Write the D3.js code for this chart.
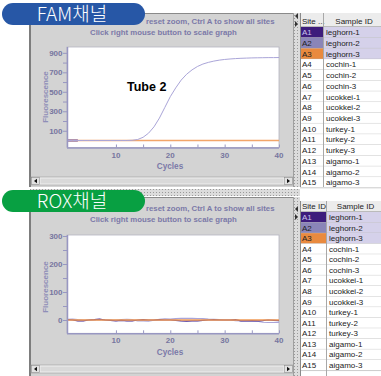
<!DOCTYPE html>
<html><head><meta charset="utf-8">
<script src="https://cdn.jsdelivr.net/npm/d3@7"></script>
<style>body{margin:0;background:#fff;overflow:hidden}svg{display:block}</style>
</head><body>
<svg id="c" width="381" height="376"></svg>
<script>
// ---------- data ----------
const cycles = d3.range(1, 41);
// FAM channel
const famA1 = [0, 0, 0];
const famA2 = [0,0,0,0,0,0,0,0,0,0,0,0,2,10,33,75,140,230,340,450,540,620,680,725,760,785,802,815,825,832,837,841,844,846,848,849,850,851,851,852];
const famA3 = [0,0,0,0,0,0,0,0,0,0,0,0,0,0,0,0,0,0,0,0,0,0,0,0,0,0,0,0,0,0,0,0,0,0,0,0,0,0,0,0];
// ROX channel
const roxA1 = [1,0,-3,-3,0,1,3,0,-1,-3,-1,-3,-3,0,1,0,0,1,0,0,-1,-3,-4,-3,-3,-1,0,1,0,0,0,1,-3,-3,-2,-3,-2,0,-1,-2];
const roxA2 = [2,3,1,0,0,1,0,1,0,0,1,2,1,-3,-3,-4,-1,2,4,3,5,6,6,6,5,5,3,2,1,0,0,-2,-3,-2,-3,-4,-8,-9,-9,-9];
const roxA3 = [0,0,0,0,0,0,0,0,0,0,0,0,0,0,0,0,0,0,0,0,0,0,0,0,0,0,0,0,0,0,0,0,0,0,0,0,0,0,0,0];
const famYTicks = [100, 300, 500, 700, 900];
const famYMinor = [200, 400, 600, 800];
const roxYTicks = [0, 100, 200, 300];
const roxYMinor = [50, 150, 250];
const xTicks = [10, 20, 30, 40];
const xMinor = [15, 25, 35];
const siteIds = ["A1","A2","A3","A4","A5","A6","A7","A8","A9","A10","A11","A12","A13","A14","A15"];
const sampleIds = ["leghorn-1","leghorn-2","leghorn-3","cochin-1","cochin-2","cochin-3","ucokkei-1","ucokkei-2","ucokkei-3","turkey-1","turkey-2","turkey-3","aigamo-1","aigamo-2","aigamo-3"];
const siteColors = ["#3d1c7c", "#8a85b8", "#e98a3f"];
const seriesColors = {A1: "#3f2390", A2: "#aaa5d8", A3: "#f2a56a"};

// ---------- drawing ----------
const svg = d3.select("#c");
const defs = svg.append("defs");
const pat = defs.append("pattern").attr("id","dots").attr("width",3).attr("height",3).attr("patternUnits","userSpaceOnUse");
pat.append("rect").attr("width",3).attr("height",3).attr("fill","#dcdcdc");
pat.append("rect").attr("width",1).attr("height",1).attr("fill","#9a9a9a");

const FONT = "Liberation Sans, Arial, sans-serif";
const TXT = "#7b79a8";
const LBL = "#77769f";

svg.append("rect").attr("x", 30).attr("y", 189).attr("width", 270).attr("height", 7).attr("fill", "url(#dots)");

function panel(cfg) {
  const g = svg.append("g");
  g.append("rect").attr("x", 30).attr("y", cfg.top).attr("width", 264).attr("height", cfg.bottom - cfg.top)
    .attr("fill", "#d3d3d3");
  g.append("line").attr("x1", 30).attr("x2", 30).attr("y1", cfg.top).attr("y2", cfg.bottom)
    .attr("stroke", "#7d7d7d").attr("stroke-width", 2);
  g.append("line").attr("x1", 30).attr("x2", 300).attr("y1", cfg.top + 0.5).attr("y2", cfg.top + 0.5)
    .attr("stroke", "#8a8a8a");
  g.append("rect").attr("x", 293).attr("y", cfg.top).attr("width", 7).attr("height", cfg.bottom - cfg.top)
    .attr("fill", "url(#dots)");
  g.append("line").attr("x1", 293.5).attr("x2", 293.5).attr("y1", cfg.top).attr("y2", cfg.bottom).attr("stroke", "#a0a0a0");
  const ay = cfg.arrowY;
  g.append("path").attr("d", `M298,${ay-3} L295,${ay} L298,${ay+3} Z`).attr("fill", "#333");
  g.append("path").attr("d", `M295,${ay+5} L298,${ay+8} L295,${ay+11} Z`).attr("fill", "#333");

  g.append("text").attr("x", 146).attr("y", cfg.line1).attr("font-family", FONT).attr("font-weight", "bold")
    .attr("font-size", 7.8).attr("fill", TXT).text("reset zoom, Ctrl A to show all sites");
  g.append("text").attr("x", 90).attr("y", cfg.line2).attr("font-family", FONT).attr("font-weight", "bold")
    .attr("font-size", 7.8).attr("fill", TXT).text("Click right mouse button to scale graph");

  const x = d3.scaleLinear().domain([1, 40]).range([67, 279]);
  const y = d3.scaleLinear().domain(cfg.yDomain).range([cfg.plotBottom, cfg.plotTop]);
  g.append("rect").attr("x", 67).attr("y", cfg.plotTop).attr("width", 212).attr("height", cfg.plotBottom - cfg.plotTop)
    .attr("fill", "#fff").attr("stroke", "#b4b4c0").attr("stroke-width", 0.8);

  const line = d3.line().x((d, i) => x(cycles[i])).y(d => y(d));
  cfg.series.forEach(s => {
    g.append("path").datum(s.values).attr("d", line).attr("fill", "none")
      .attr("stroke", s.color).attr("stroke-width", s.width || 1);
  });

  const axCol = "#9897c2";
  const yAx = g.append("g").attr("transform", "translate(67,0)")
    .call(d3.axisLeft(y).tickValues(cfg.yTicks.concat(cfg.yMinor)).tickSize(4).tickFormat(""));
  yAx.select(".domain").attr("d", `M0.5,${cfg.plotTop}V${cfg.plotBottom}`).attr("stroke", axCol).attr("stroke-width", 1.5);
  yAx.selectAll("line").attr("stroke", axCol);
  g.append("g").selectAll("text").data(cfg.yTicks).join("text")
    .attr("x", 62.5).attr("y", d => y(d) + 3).attr("text-anchor", "end")
    .attr("font-family", FONT).attr("font-weight", "bold").attr("font-size", 8).attr("fill", LBL)
    .text(d => d);

  const xAx = g.append("g").attr("transform", `translate(0,${cfg.plotBottom})`)
    .call(d3.axisBottom(x).tickValues(xTicks.concat(xMinor)).tickSize(-3).tickFormat(""));
  xAx.select(".domain").attr("d", `M67,0.5H279`).attr("stroke", axCol).attr("stroke-width", 1.5);
  xAx.selectAll("line").attr("stroke", axCol);
  g.append("g").selectAll("text").data(xTicks).join("text")
    .attr("x", d => x(d)).attr("y", cfg.plotBottom + 10).attr("text-anchor", "middle")
    .attr("font-family", FONT).attr("font-weight", "bold").attr("font-size", 8).attr("fill", LBL)
    .text(d => d);

  g.append("text").attr("x", 170).attr("y", cfg.plotBottom + 21.5).attr("text-anchor", "middle")
    .attr("font-family", FONT).attr("font-weight", "bold").attr("font-size", 8.2).attr("fill", TXT).text("Cycles");
  g.append("text").attr("transform", `translate(48,${cfg.fluoY}) rotate(-90)`).attr("text-anchor", "middle")
    .attr("font-family", FONT).attr("font-weight", "bold").attr("font-size", 8).attr("fill", "#8f8eb8").text("Fluorescence");

  const sy = cfg.scrollY;
  g.append("rect").attr("x", 31).attr("y", sy).attr("width", 262).attr("height", 8).attr("fill", "#cfcfcf").attr("stroke", "#9b9b9b").attr("stroke-width", 0.6);
  g.append("rect").attr("x", 40).attr("y", sy + 1).attr("width", 244).attr("height", 6).attr("fill", "#d9d9d9").attr("stroke", "#f4f4f4").attr("stroke-width", 0.8);
  g.append("rect").attr("x", 31.5).attr("y", sy + 0.5).attr("width", 8).attr("height", 7).attr("fill", "#e2e2e2").attr("stroke", "#888").attr("stroke-width", 0.5);
  g.append("rect").attr("x", 284.5).attr("y", sy + 0.5).attr("width", 8).attr("height", 7).attr("fill", "#e2e2e2").attr("stroke", "#888").attr("stroke-width", 0.5);
  g.append("path").attr("d", `M37,${sy+1.8} L34,${sy+4} L37,${sy+6.2} Z`).attr("fill", "#111");
  g.append("path").attr("d", `M287,${sy+1.8} L290,${sy+4} L287,${sy+6.2} Z`).attr("fill", "#111");

  const t = svg.append("g");
  const tx = 300, col2 = cfg.col2, rh = cfg.rowH;
  t.append("rect").attr("x", tx).attr("y", cfg.top).attr("width", 81).attr("height", cfg.bottom - cfg.top).attr("fill", "#fff");
  t.append("rect").attr("x", tx).attr("y", cfg.headTop).attr("width", 81).attr("height", cfg.headH).attr("fill", "#ececec");
  t.append("line").attr("x1", tx).attr("x2", 381).attr("y1", cfg.headTop + cfg.headH).attr("y2", cfg.headTop + cfg.headH).attr("stroke", "#8a8a8a");
  t.append("text").attr("x", tx + 2).attr("y", cfg.headTop + cfg.headH - 3).attr("font-family", FONT).attr("font-size", 8).attr("fill", "#222").text(cfg.siteHeader);
  t.append("text").attr("x", (col2 + 381) / 2 + 2).attr("y", cfg.headTop + cfg.headH - 3).attr("text-anchor", "middle").attr("font-family", FONT).attr("font-size", 8).attr("fill", "#222").text("Sample ID");
  const r0 = cfg.headTop + cfg.headH;
  siteIds.forEach((id, i) => {
    const ry = r0 + i * rh;
    const sel = i < 3;
    t.append("rect").attr("x", tx).attr("y", ry).attr("width", col2 - tx).attr("height", rh)
      .attr("fill", sel ? siteColors[i] : "#fff");
    t.append("rect").attr("x", col2).attr("y", ry).attr("width", 381 - col2).attr("height", rh)
      .attr("fill", sel ? "#d5d1ea" : "#fff");
    t.append("line").attr("x1", tx).attr("x2", 381).attr("y1", ry + rh).attr("y2", ry + rh).attr("stroke", "#b4b4b4").attr("stroke-width", 0.7);
    t.append("text").attr("x", tx + 2).attr("y", ry + rh - 2.5).attr("font-family", FONT).attr("font-size", 8)
      .attr("fill", i === 0 ? "#c9c2ec" : "#222").text(id);
    t.append("text").attr("x", col2 + 3).attr("y", ry + rh - 2.5).attr("font-family", FONT).attr("font-size", 8)
      .attr("fill", "#222").text(sampleIds[i]);
  });
  t.append("line").attr("x1", tx + 0.5).attr("x2", tx + 0.5).attr("y1", cfg.headTop).attr("y2", cfg.bottom).attr("stroke", "#8a8a8a");
  t.append("line").attr("x1", col2 + 0.5).attr("x2", col2 + 0.5).attr("y1", cfg.headTop).attr("y2", cfg.bottom).attr("stroke", "#a8a8a8");

  g.append("rect").attr("x", 2).attr("y", cfg.pillY).attr("width", 143).attr("height", 22).attr("rx", 11)
    .attr("fill", cfg.pillColor);
  g.append("text").attr("x", 72).attr("y", cfg.pillY + 18).attr("text-anchor", "middle")
    .attr("font-family", "Noto Sans CJK KR, Noto Sans, sans-serif").attr("font-weight", 300).attr("font-size", 19)
    .attr("fill", "#fff").text(cfg.label);
  return {x, y};
}

const fam = panel({
  top: 13, bottom: 187, plotTop: 47, plotBottom: 147.5, yDomain: [-72, 960],
  yTicks: famYTicks, yMinor: famYMinor, line1: 23.5, line2: 34.5, fluoY: 97, scrollY: 177,
  arrowY: 16, col2: 323, rowH: 10.72, headTop: 13, headH: 14, siteHeader: "Site ...",
  pillY: 3, pillColor: "#2757a6", label: "FAM채널",
  series: [
    {values: famA1, color: "#3f2390", width: 2},
    {values: famA3, color: seriesColors.A3, width: 1.6},
    {values: famA2, color: seriesColors.A2, width: 1}
  ]
});
svg.append("text").attr("x", 127).attr("y", 90.5).attr("font-family", FONT).attr("font-weight", "bold")
  .attr("font-size", 12.5).attr("fill", "#000").text("Tube 2");

const rox = panel({
  top: 197, bottom: 376, plotTop: 235, plotBottom: 333.3, yDomain: [-47.5, 303.6],
  yTicks: roxYTicks, yMinor: roxYMinor, line1: 210.5, line2: 222, fluoY: 287, scrollY: 365,
  arrowY: 209, col2: 326, rowH: 10.57, headTop: 201, headH: 11, siteHeader: "Site ID",
  pillY: 190, pillColor: "#08a042", label: "ROX채널",
  series: [
    {values: roxA2, color: seriesColors.A2, width: 1.2},
    {values: roxA1, color: seriesColors.A1, width: 1.2},
    {values: roxA3, color: "#f09a55", width: 1.3}
  ]
});
</script>
</body></html>
